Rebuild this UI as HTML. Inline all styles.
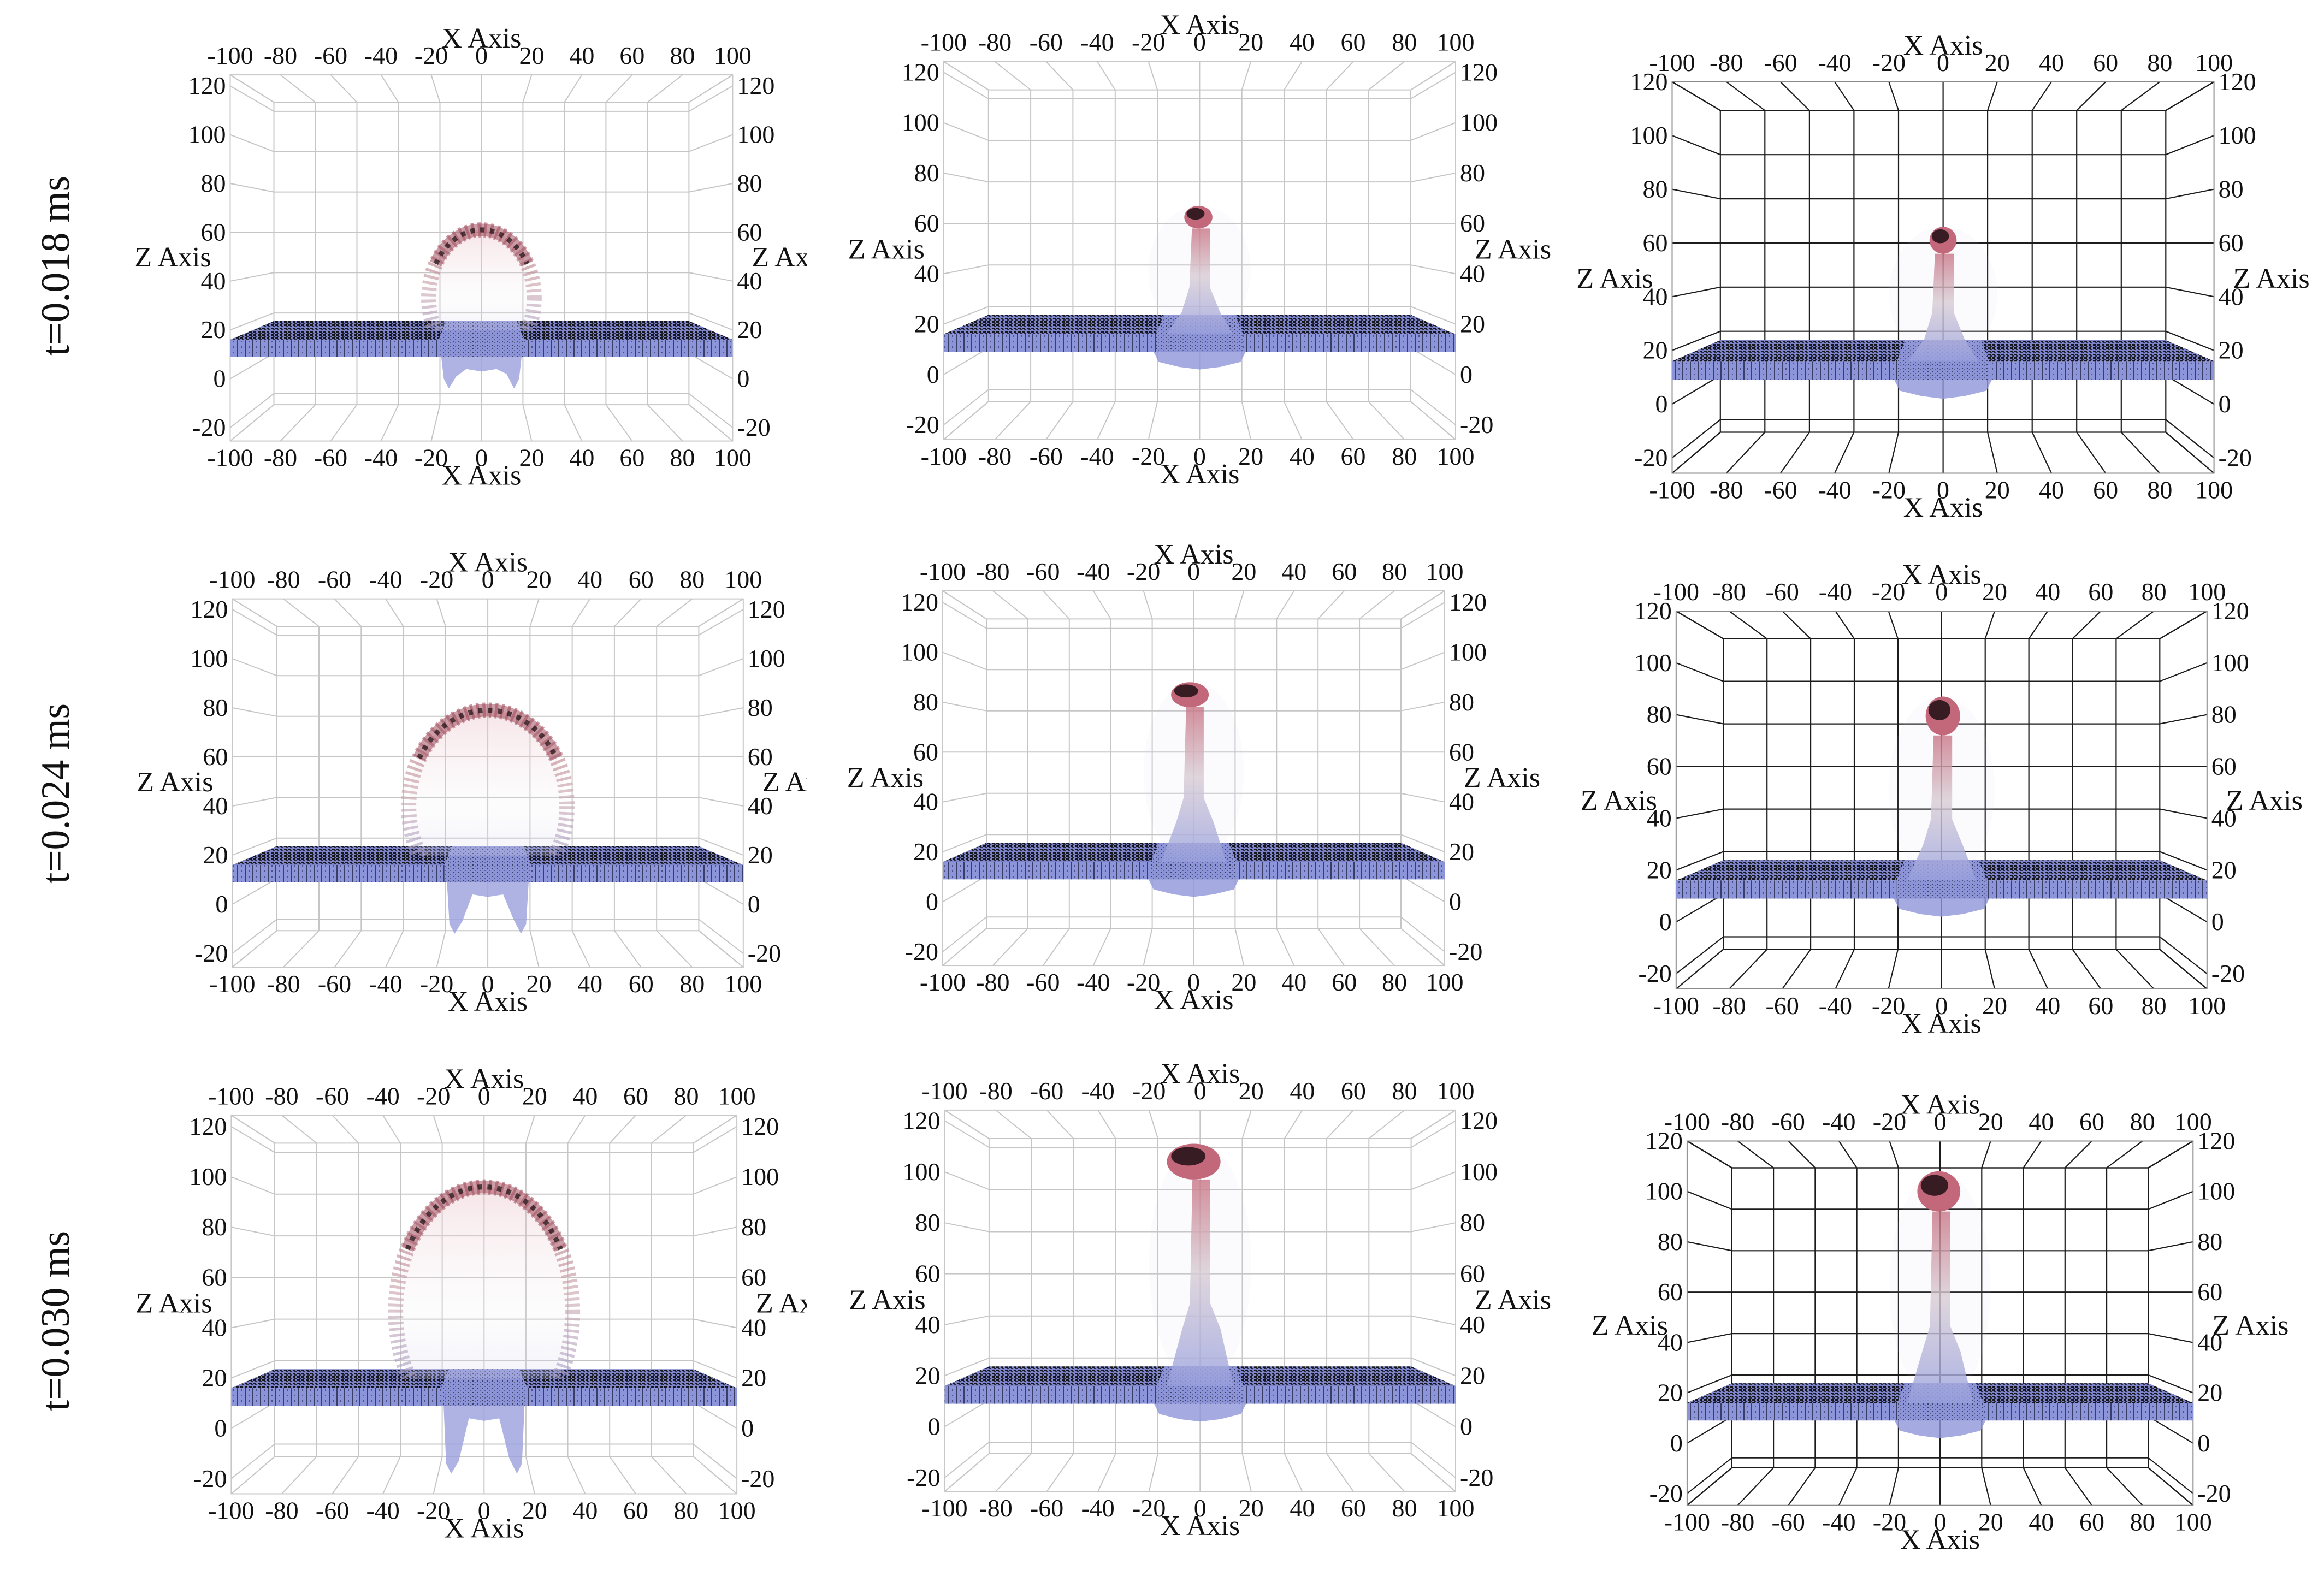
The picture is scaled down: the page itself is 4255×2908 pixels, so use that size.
<!DOCTYPE html>
<html>
<head>
<meta charset="utf-8">
<style>
html,body{margin:0;padding:0;background:#fff;}
svg{display:block;}
text{font-family:"Liberation Serif",serif;fill:#111;}
</style>
</head>
<body>
<svg id="fig" width="4255" height="2908" viewBox="0 0 4255 2908" xmlns="http://www.w3.org/2000/svg">
<defs>
  <pattern id="topPat" width="8" height="6" patternUnits="userSpaceOnUse">
    <rect width="8" height="6" fill="#7c83c6"/>
    <rect x="0" y="0" width="5" height="3" fill="#16161f"/>
    <rect x="3" y="3" width="4" height="2" fill="#2a2b40"/>
  </pattern>
  <pattern id="frontPat" width="14" height="10" patternUnits="userSpaceOnUse">
    <rect width="14" height="10" fill="#8d95da"/>
    <rect x="0" y="0" width="2" height="10" fill="#3a3d66"/>
    <rect x="7" y="4" width="2" height="3" fill="#4d5184"/>
  </pattern>
  <pattern id="holePat" width="9" height="7" patternUnits="userSpaceOnUse">
    <rect width="9" height="7" fill="#8c93d6"/>
    <rect x="1" y="1" width="2" height="2" fill="#3c3f66"/>
    <rect x="5" y="4" width="2" height="2" fill="#5a5f94"/>
  </pattern>
  <linearGradient id="domeFill" x1="0" y1="0" x2="0" y2="1">
    <stop offset="0" stop-color="#e6b4bc" stop-opacity="0.35"/>
    <stop offset="0.5" stop-color="#f1eef2" stop-opacity="0.15"/>
    <stop offset="1" stop-color="#b4b9e6" stop-opacity="0.35"/>
  </linearGradient>
  <linearGradient id="domeStroke" x1="0" y1="0" x2="0" y2="1">
    <stop offset="0" stop-color="#a8505f"/>
    <stop offset="0.45" stop-color="#c8a4ad"/>
    <stop offset="1" stop-color="#8f96d4"/>
  </linearGradient>
  <linearGradient id="jetGrad" x1="0" y1="0" x2="0" y2="1">
    <stop offset="0" stop-color="#c87484"/>
    <stop offset="0.45" stop-color="#d8ccd4"/>
    <stop offset="1" stop-color="#98a0de"/>
  </linearGradient>
</defs>
</svg>
<script>
// ---- data ----
const ROW_LABELS = ['t=0.018 ms', 't=0.024 ms', 't=0.030 ms'];
const X_TICKS = [-100, -80, -60, -40, -20, 0, 20, 40, 60, 80, 100];
const Z_TICKS = [-20, 0, 20, 40, 60, 80, 100, 120];
// column 1: dome
const DOME_TOP = [61, 79, 96];
const DOME_HALF = [21, 31, 35];
const DOME_LEG = [-4, -12, -18];
// column 2: jet
const JET2_TOP = [67, 88, 111];
const JET2_BOT = [58, 78, 97];
const JET2_X0 = [-6, -9, -13];
const JET2_X1 = [5, 6, 8];
// column 3: jet
const JET3_TOP = [66, 87, 108];
const JET3_BOT = [56, 72, 92];
const JET3_X0 = [-5, -6, -9];
const JET3_X1 = [5, 7, 8];
const SLAB_TOP = 16;
const SLAB_BOT = 9;
const HOLE_HALF = 17;

// ---- layout (pixels) ----
const LAYOUT = [
  {xL:421.5, xR:1341.4, y120:157.2, sz:4.47, zTop:124.5, zBot:-25.5, r:0.826},
  {xL:1727.8, xR:2665, y120:132.5, sz:4.611, zTop:124.3, zBot:-25.8, r:0.825},
  {xL:3061.5, xR:4053.6, y120:149.8, sz:4.919, zTop:120, zBot:-25.7, r:0.822},
  {xL:425.4, xR:1360.8, y120:1116, sz:4.5, zTop:124.3, zBot:-25.6, r:0.826},
  {xL:1726, xR:2645, y120:1103, sz:4.571, zTop:124.6, zBot:-25.5, r:0.826},
  {xL:3068.8, xR:4040.8, y120:1119, sz:4.743, zTop:120, zBot:-25.9, r:0.822},
  {xL:423.4, xR:1349.1, y120:2063, sz:4.606, zTop:124.5, zBot:-26, r:0.828},
  {xL:1729.5, xR:2665, y120:2052.5, sz:4.668, zTop:124.2, zBot:-25.4, r:0.826},
  {xL:3088.9, xR:4015.3, y120:2089.5, sz:4.611, zTop:120, zBot:-24.7, r:0.823}
];
const ROW_LABEL_Y = [487, 1453, 2419];

const NS = 'http://www.w3.org/2000/svg';
const svg = document.getElementById('fig');
const defs = svg.querySelector('defs');
function mk(tag, attrs, parent) {
  const e = document.createElementNS(NS, tag);
  for (const k in attrs) e.setAttribute(k, attrs[k]);
  parent.appendChild(e);
  return e;
}
function pts(arr) { return arr.map(p => p[0].toFixed(1) + ',' + p[1].toFixed(1)).join(' '); }

ROW_LABELS.forEach((lab, r) => {
  const t = mk('text', {x: 102, y: ROW_LABEL_Y[r], 'font-size': 74, 'text-anchor': 'middle', 'dominant-baseline': 'central', transform: 'rotate(-90 102 ' + ROW_LABEL_Y[r] + ')', textLength: 330, lengthAdjust: 'spacingAndGlyphs'}, svg);
  
  
  t.textContent = lab;
});

for (let i = 0; i < 9; i++) {
  const row = Math.floor(i / 3), col = i % 3;
  const L = LAYOUT[i];
  const sx = (L.xR - L.xL) / 200;
  const cx = (L.xL + L.xR) / 2;
  const y60 = L.y120 + 60 * L.sz;
  const P = (x, z, d) => { const k = 1 - d * (1 - L.r); return [cx + x * sx * k, y60 - (z - 60) * L.sz * k]; };
  const dark = col === 2;
  const gridCol = dark ? '#1c1c1c' : '#c6c6c6';
  const gridW = dark ? 2.2 : 2;

  if (col === 0) {
    const cp = mk('clipPath', {id: 'clip' + i}, defs);
    mk('rect', {x: 0, y: 0, width: 1478, height: 2908}, cp);
  }
  const g = mk('g', col === 0 ? {'clip-path': 'url(#clip' + i + ')'} : {}, svg);
  
  

  const grid = mk('g', {stroke: gridCol, 'stroke-width': gridW, fill: 'none'}, g);
  
  
  const line = (a, b) => mk('line', {x1: a[0].toFixed(1), y1: a[1].toFixed(1), x2: b[0].toFixed(1), y2: b[1].toFixed(1)}, grid);

  X_TICKS.forEach(x => {
    const ln = line(P(x, L.zTop, 1), P(x, L.zBot, 1));
    
    
    const t1 = line(P(x, L.zTop, 0), P(x, L.zTop, 1));
    
    
    const t2 = line(P(x, L.zBot, 0), P(x, L.zBot, 1));
    
    
  });
  Z_TICKS.concat([L.zTop, L.zBot]).forEach(z => {
    const ln = line(P(-100, z, 1), P(100, z, 1));
    
    
    const s1 = line(P(-100, z, 0), P(-100, z, 1));
    
    
    const s2 = line(P(100, z, 0), P(100, z, 1));
    
    
  });
  const ft = P(-100, L.zTop, 0), fb = P(100, L.zBot, 0);
  const frame = mk('rect', {x: ft[0], y: ft[1], width: fb[0] - ft[0], height: fb[1] - ft[1], fill: 'none', stroke: dark ? '#8a8a8a' : '#c8c8c8', 'stroke-width': 2}, g);
  
  

  const topFace = mk('polygon', {points: pts([P(-100, SLAB_TOP, 0), P(100, SLAB_TOP, 0), P(100, SLAB_TOP, 1), P(-100, SLAB_TOP, 1)]), fill: 'url(#topPat)'}, g);
  
  
  const frontFace = mk('polygon', {points: pts([P(-100, SLAB_TOP, 0), P(100, SLAB_TOP, 0), P(100, SLAB_BOT, 0), P(-100, SLAB_BOT, 0)]), fill: 'url(#frontPat)'}, g);
  
  
  const hole = mk('polygon', {points: pts([P(-HOLE_HALF, SLAB_TOP, 1), P(HOLE_HALF, SLAB_TOP, 1), P(HOLE_HALF, SLAB_TOP, 0), P(HOLE_HALF, SLAB_BOT, 0), P(-HOLE_HALF, SLAB_BOT, 0), P(-HOLE_HALF, SLAB_TOP, 0)]), fill: 'url(#holePat)'}, g);
  
  

  const F = (x, z) => P(x, z, 0);
  if (col === 0) {
    const top = DOME_TOP[row], hw = DOME_HALF[row], leg = DOME_LEG[row];
    const legs = mk('polygon', {points: pts([F(-16, SLAB_BOT), F(16, SLAB_BOT), F(15, leg + 4), F(13, leg), F(10, leg + 6), F(6, 4), F(0, 3), F(-6, 4), F(-10, leg + 5), F(-13, leg), F(-15, leg + 4)]), fill: '#9aa0dc', 'fill-opacity': 0.8}, g);
    
    
    const baseY = P(0, SLAB_TOP, 0.5)[1];
    const cp2 = mk('clipPath', {id: 'dc' + i}, defs);
    mk('rect', {x: 0, y: 0, width: 4255, height: baseY}, cp2);
    const rz = (top - SLAB_TOP) * 0.62, zc = top - rz;
    const c = F(0, zc);
    const dome = mk('ellipse', {cx: c[0], cy: c[1], rx: hw * sx, ry: rz * L.sz, fill: 'url(#domeFill)', stroke: 'url(#domeStroke)', 'stroke-width': 6 * sx, 'stroke-opacity': 0.6, 'stroke-dasharray': '5 6', 'clip-path': 'url(#dc' + i + ')'}, g);
    
    
    const a1 = 150 * Math.PI / 180, a2 = 30 * Math.PI / 180;
    const p1 = F(hw * Math.cos(a1), zc + rz * Math.sin(a1)), p2 = F(hw * Math.cos(a2), zc + rz * Math.sin(a2));
    const arc = 'M' + p1[0] + ',' + p1[1] + ' A' + (hw * sx) + ',' + (rz * L.sz) + ' 0 0 1 ' + p2[0] + ',' + p2[1];
    const rim = mk('path', {d: arc, fill: 'none', stroke: '#a04c5c', 'stroke-width': 5 * sx, 'stroke-opacity': 0.55}, g);
    
    
    const rim2 = mk('path', {d: arc, fill: 'none', stroke: '#1a1012', 'stroke-width': 2 * sx, 'stroke-dasharray': '8 10', 'stroke-opacity': 0.7}, g);
    
    
  } else {
    const top = col === 1 ? JET2_TOP[row] : JET3_TOP[row];
    const bot = col === 1 ? JET2_BOT[row] : JET3_BOT[row];
    const x0 = col === 1 ? JET2_X0[row] : JET3_X0[row];
    const x1 = col === 1 ? JET2_X1[row] : JET3_X1[row];
    const splash = mk('polygon', {points: pts([F(-18, SLAB_BOT), F(18, SLAB_BOT), F(16, 5), F(8, 3), F(0, 2), F(-8, 3), F(-16, 5)]), fill: '#8f96d8', 'fill-opacity': 0.8}, g);
    
    
    const spray = mk('ellipse', {cx: F(0, 0)[0], cy: F(0, (top + SLAB_TOP) / 2)[1], rx: 20 * sx, ry: (top - SLAB_TOP) / 2 * L.sz, fill: '#c9cbe6', 'fill-opacity': 0.08}, g);
    
    
    const mid = SLAB_TOP + (bot - SLAB_TOP) * 0.35;
    const column = mk('polygon', {points: pts([F(-13, SLAB_TOP), F(-7, mid - 6), F(-4, mid + 4), F(-3, bot), F(4, bot), F(4, mid + 4), F(8, mid - 6), F(13, SLAB_TOP)]), fill: 'url(#jetGrad)', 'fill-opacity': 0.8}, g);
    
    
    const hc = F((x0 + x1) / 2, (top + bot) / 2);
    const head = mk('ellipse', {cx: hc[0], cy: hc[1], rx: (x1 - x0) / 2 * sx, ry: (top - bot) / 2 * L.sz, fill: '#c2687a'}, g);
    
    
    const core = F(x0 + (x1 - x0) * 0.4, top - (top - bot) * 0.35);
    const headCore = mk('ellipse', {cx: core[0], cy: core[1], rx: (x1 - x0) * 0.32 * sx, ry: (top - bot) * 0.26 * L.sz, fill: '#1e1014', 'fill-opacity': 0.85}, g);
    
    
  }

  const fTop = P(0, L.zTop, 0)[1], fBot = P(0, L.zBot, 0)[1];
  X_TICKS.forEach(x => {
    const px = P(x, 0, 0)[0];
    const t1 = mk('text', {x: px, y: fTop - 20, 'font-size': 46, 'text-anchor': 'middle'}, g);
    
    
    t1.textContent = x;
    const t2 = mk('text', {x: px, y: fBot + 46, 'font-size': 46, 'text-anchor': 'middle'}, g);
    
    
    t2.textContent = x;
  });
  Z_TICKS.forEach(z => {
    const py = L.y120 + (120 - z) * L.sz + 15;
    const t1 = mk('text', {x: L.xL - 8, y: py, 'font-size': 46, 'text-anchor': 'end'}, g);
    
    
    t1.textContent = z;
    const t2 = mk('text', {x: L.xR + 8, y: py, 'font-size': 46, 'text-anchor': 'start'}, g);
    
    
    t2.textContent = z;
  });
  const xa1 = mk('text', {x: cx, y: fTop - 50, 'font-size': 52, 'text-anchor': 'middle'}, g);
  
  
  xa1.textContent = 'X Axis';
  const xa2 = mk('text', {x: cx, y: fBot + 80, 'font-size': 52, 'text-anchor': 'middle'}, g);
  
  
  xa2.textContent = 'X Axis';
  const zt = col === 2 ? 47 : 50;
  const zy = L.y120 + (120 - zt) * L.sz + 18;
  const za1 = mk('text', {x: L.xL - 105, y: zy, 'font-size': 52, 'text-anchor': 'middle'}, g);
  
  
  za1.textContent = 'Z Axis';
  const za2 = mk('text', {x: L.xR + 105, y: zy, 'font-size': 52, 'text-anchor': 'middle'}, g);
  
  
  za2.textContent = 'Z Axis';
}
</script>
</body>
</html>
